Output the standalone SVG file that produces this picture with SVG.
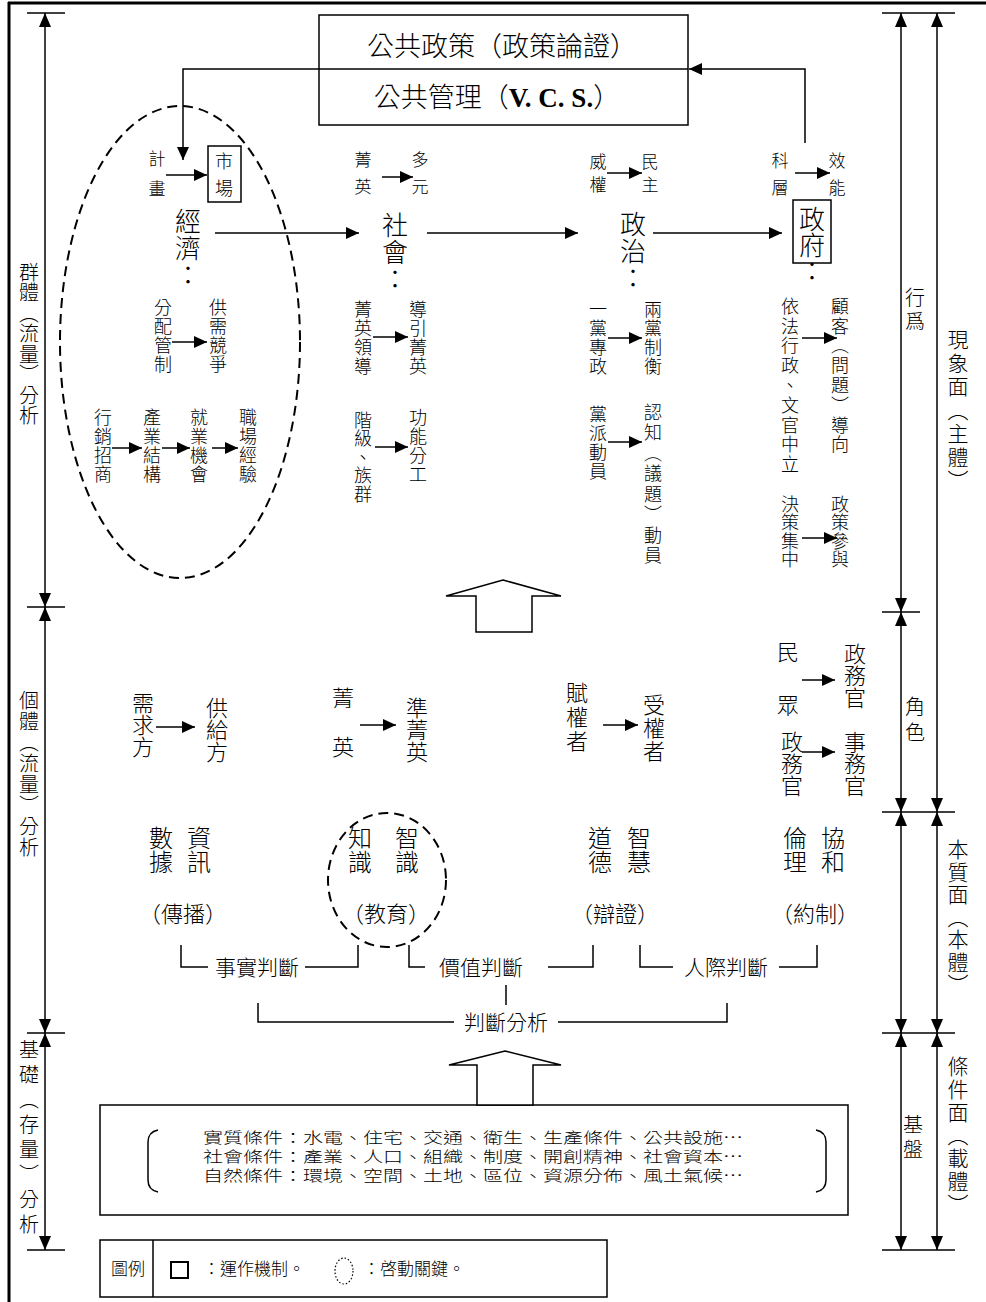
<svg xmlns="http://www.w3.org/2000/svg" width="986" height="1302" viewBox="0 0 986 1302">
<defs>
<marker id="ah" markerUnits="userSpaceOnUse" markerWidth="13" markerHeight="12" refX="13" refY="6" orient="auto"><path d="M0,0 L13,6 L0,12 z" fill="#000"/></marker>
<marker id="dm" markerUnits="userSpaceOnUse" markerWidth="14" markerHeight="12" refX="14" refY="6" orient="auto-start-reverse"><path d="M0,0 L14,6 L0,12 z" fill="#000"/></marker>
<style>
text{font-family:"Noto Sans CJK TC","Noto Sans CJK SC",sans-serif;fill:#000;font-weight:300}
.v{writing-mode:vertical-rl}
.f15{font-size:15px}
.f17{font-size:17px}
.f18{font-size:18px}
.f20{font-size:20px}
.f21{font-size:21px}
.f22{font-size:22px}
.f24{font-size:24px}
.f26{font-size:26px}
.f27{font-size:27px}
.mid{text-anchor:middle}
.ln{stroke:#000;stroke-width:1.5;fill:none}
.ar{stroke:#000;stroke-width:1.5;fill:none;marker-end:url(#ah)}
.dim{stroke:#000;stroke-width:1.5;fill:none;marker-start:url(#dm);marker-end:url(#dm)}
.box{fill:none;stroke:#000;stroke-width:1.5}
.hollow{fill:#fff;stroke:#000;stroke-width:1.5}
.dash{fill:none;stroke:#000;stroke-width:2;stroke-dasharray:10 6}
</style>
</defs>
<rect width="986" height="1302" fill="#fff"/>
<g id="frame">
<line x1="8" y1="3" x2="986" y2="3" stroke="#000" stroke-width="3"/>
<line x1="9" y1="2" x2="9" y2="1302" stroke="#000" stroke-width="3"/>
</g>
<g id="left-axis">
<g class="ln"><line x1="27" y1="13" x2="65" y2="13"/><line x1="27" y1="607" x2="65" y2="607"/><line x1="27" y1="1033" x2="65" y2="1033"/><line x1="27" y1="1250" x2="65" y2="1250"/></g>
<path class="dim" d="M45,13 V607"/><path class="dim" d="M45,607 V1033"/><path class="dim" d="M45,1033 V1250"/>
<text class="v f20" x="29" y="262" style="letter-spacing:0.5px">群體（流量）分析</text>
<text class="v f20" x="29" y="690" style="letter-spacing:1px">個體（流量）分析</text>
<text class="v f20" x="29" y="1039" style="letter-spacing:5px">基礎（存量）分析</text>
</g>
<g id="right-axis">
<g class="ln"><line x1="882" y1="13" x2="955" y2="13"/><line x1="882" y1="612" x2="920" y2="612"/><line x1="882" y1="812" x2="955" y2="812"/><line x1="882" y1="1033" x2="955" y2="1033"/><line x1="882" y1="1250" x2="955" y2="1250"/></g>
<path class="dim" d="M901,13 V612"/><path class="dim" d="M901,612 V812"/><path class="dim" d="M901,812 V1033"/><path class="dim" d="M901,1033 V1250"/>
<path class="dim" d="M937,13 V812"/><path class="dim" d="M937,812 V1033"/><path class="dim" d="M937,1033 V1250"/>
<text class="v f20" x="915" y="287" style="letter-spacing:4px">行爲</text>
<text class="v f21" x="958" y="329" style="letter-spacing:2.5px">現象面（主體）</text>
<text class="v f20" x="915" y="696" style="letter-spacing:6px">角色</text>
<text class="v f21" x="958" y="839" style="letter-spacing:1.5px">本質面（本體）</text>
<text class="v f20" x="913" y="1114" style="letter-spacing:5px">基盤</text>
<text class="v f21" x="958" y="1056" style="letter-spacing:2px">條件面（載體）</text>
</g>
<g id="policy-box">
<rect class="box" x="319" y="15" width="369" height="110"/>
<line class="ln" x1="319" y1="69" x2="688" y2="69"/>
<text class="f27 mid" x="502" y="56">公共政策（政策論證）</text>
<text class="f27 mid" x="497" y="107">公共管理（<tspan style="font-family:'Liberation Serif',serif;font-weight:bold">V. C. S.</tspan>）</text>
</g>
<g id="economy">
<ellipse class="dash" cx="180" cy="342" rx="120" ry="236"/>
<text class="v f17" x="157" y="150" style="letter-spacing:13px">計畫</text>
<rect class="box" x="208" y="146" width="33" height="56"/>
<text class="v f18" x="224" y="152" style="letter-spacing:9px">市場</text>
<text class="v f26" x="188" y="208" style="letter-spacing:1px">經濟：</text>
<text class="v f18" x="163" y="298" style="letter-spacing:1px">分配管制</text>
<text class="v f18" x="218" y="298" style="letter-spacing:1px">供需競爭</text>
<text class="v f18" x="103" y="408" style="letter-spacing:1px">行銷招商</text>
<text class="v f18" x="152" y="408" style="letter-spacing:1px">產業結構</text>
<text class="v f18" x="199" y="408" style="letter-spacing:1px">就業機會</text>
<text class="v f18" x="248" y="408" style="letter-spacing:1px">職場經驗</text>
</g>
<g id="society">
<text class="v f17" x="363" y="151" style="letter-spacing:10px">菁英</text>
<text class="v f17" x="420" y="151" style="letter-spacing:10px">多元</text>
<text class="v f26" x="395" y="212" style="letter-spacing:1px">社會：</text>
<text class="v f18" x="363" y="300" style="letter-spacing:1px">菁英領導</text>
<text class="v f18" x="418" y="300" style="letter-spacing:1px">導引菁英</text>
<text class="v f18" x="363" y="411" style="letter-spacing:0.5px">階級、族群</text>
<text class="v f18" x="418" y="408" style="letter-spacing:1px">功能分工</text>
</g>
<g id="politics">
<text class="v f17" x="598" y="153" style="letter-spacing:6px">威權</text>
<text class="v f17" x="650" y="153" style="letter-spacing:6px">民主</text>
<text class="v f26" x="633" y="211" style="letter-spacing:1px">政治：</text>
<text class="v f18" x="598" y="300" style="letter-spacing:1px">一黨專政</text>
<text class="v f18" x="653" y="300" style="letter-spacing:1px">兩黨制衡</text>
<text class="v f18" x="598" y="405" style="letter-spacing:1px">黨派動員</text>
<text class="v f18" x="653" y="403" style="letter-spacing:2.5px">認知（議題）動員</text>
</g>
<g id="government">
<text class="v f17" x="780" y="152" style="letter-spacing:10px">科層</text>
<text class="v f17" x="837" y="152" style="letter-spacing:10px">效能</text>
<rect class="box" x="793" y="200" width="38" height="63"/>
<text class="v f26" x="812" y="206" style="letter-spacing:0px">政府：</text>
<text class="v f18" x="790" y="297" style="letter-spacing:1.8px">依法行政、文官中立</text>
<text class="v f18" x="840" y="297" style="letter-spacing:1.8px">顧客（問題）導向</text>
<text class="v f18" x="790" y="495" style="letter-spacing:0.5px">決策集中</text>
<text class="v f18" x="840" y="495" style="letter-spacing:0.5px">政策參與</text>
</g>
<g id="roles">
<text class="v f22" x="143" y="692">需求方</text>
<text class="v f22" x="217" y="697">供給方</text>
<text class="v f22" x="343" y="687" style="letter-spacing:27px">菁英</text>
<text class="v f22" x="417" y="697">準菁英</text>
<text class="v f22" x="577" y="682" style="letter-spacing:2px">賦權者</text>
<text class="v f22" x="654" y="694" style="letter-spacing:1px">受權者</text>
<text class="v f22" x="788" y="641" style="letter-spacing:31px">民眾</text>
<text class="v f22" x="855" y="643">政務官</text>
<text class="v f22" x="792" y="731">政務官</text>
<text class="v f22" x="855" y="731">事務官</text>
</g>
<g id="essence">
<text class="v f24" x="199" y="826">資訊</text>
<text class="v f24" x="161" y="826">數據</text>
<text class="f22 mid" x="183" y="922">（傳播）</text>
<ellipse class="dash" cx="387" cy="880" rx="59" ry="67"/>
<text class="v f24" x="407" y="826">智識</text>
<text class="v f24" x="360" y="826">知識</text>
<text class="f22 mid" x="386" y="922">（教育）</text>
<text class="v f24" x="639" y="826">智慧</text>
<text class="v f24" x="600" y="826">道德</text>
<text class="f22 mid" x="615" y="922">（辯證）</text>
<text class="v f24" x="833" y="826">協和</text>
<text class="v f24" x="795" y="826">倫理</text>
<text class="f22 mid" x="815" y="922">（約制）</text>
</g>
<g id="judgements">
<path class="ln" d="M181,945 V967 H208 M305,967 H358 V945"/>
<text class="f21 mid" x="257" y="975">事實判斷</text>
<path class="ln" d="M409,945 V967 H425 M548,967 H593 V945"/>
<text class="f21 mid" x="481" y="975">價值判斷</text>
<path class="ln" d="M640,945 V967 H673 M779,967 H817 V945"/>
<text class="f21 mid" x="726" y="975">人際判斷</text>
<path class="ln" d="M506,985 V1005"/>
<path class="ln" d="M258,1003 V1022 H454 M558,1022 H727 V1003"/>
<text class="f21 mid" x="506" y="1030">判斷分析</text>
</g>
<g id="conditions">
<rect class="box" x="100" y="1105" width="748" height="110"/>
<path class="ln" d="M158,1130 Q148,1132 148,1142 V1180 Q148,1190 158,1192"/>
<path class="ln" d="M816,1130 Q826,1132 826,1142 V1180 Q826,1190 816,1192"/>
<text class="f15" x="203" y="1143" textLength="540" lengthAdjust="spacingAndGlyphs">實質條件：水電、住宅、交通、衛生、生產條件、公共設施…</text>
<text class="f15" x="203" y="1162" textLength="540" lengthAdjust="spacingAndGlyphs">社會條件：產業、人口、組織、制度、開創精神、社會資本…</text>
<text class="f15" x="203" y="1181" textLength="540" lengthAdjust="spacingAndGlyphs">自然條件：環境、空間、土地、區位、資源分佈、風土氣候…</text>
</g>
<g id="legend">
<rect class="box" x="100" y="1240" width="507" height="57"/>
<line class="ln" x1="153" y1="1240" x2="153" y2="1297"/>
<text class="f17 mid" x="128" y="1275">圖例</text>
<rect x="171" y="1262" width="17" height="16" fill="none" stroke="#000" stroke-width="2"/>
<text class="f17" x="203" y="1275">：運作機制。</text>
<ellipse cx="344" cy="1271" rx="9" ry="13" fill="none" stroke="#000" stroke-width="1.2" stroke-dasharray="1.5 2"/>
<text class="f17" x="363" y="1275">：啓動關鍵。</text>
</g>
<g id="connectors">
<path class="ar" d="M805,143 V69 H689"/>
<path class="ar" d="M319,69 H183 V160"/>
<path class="ar" d="M166,175 H207"/>
<path class="ar" d="M382,177 H413"/>
<path class="ar" d="M607,173 H642"/>
<path class="ar" d="M795,173 H830"/>
<path class="ar" d="M215,233 H359"/>
<path class="ar" d="M427,233 H578"/>
<path class="ar" d="M653,233 H782"/>
<path class="ar" d="M172,342 H207"/>
<path class="ar" d="M373,337 H408"/>
<path class="ar" d="M608,338 H642"/>
<path class="ar" d="M802,338 H837"/>
<path class="ar" d="M112,448 H142"/>
<path class="ar" d="M162,448 H190"/>
<path class="ar" d="M212,448 H238"/>
<path class="ar" d="M375,447 H408"/>
<path class="ar" d="M608,442 H642"/>
<path class="ar" d="M802,538 H837"/>
<path class="ar" d="M156,727 H195"/>
<path class="ar" d="M360,725 H396"/>
<path class="ar" d="M603,725 H638"/>
<path class="ar" d="M802,680 H835"/>
<path class="ar" d="M802,752 H835"/>
<polygon class="hollow" points="503,580 561,596 532,596 532,632 476,632 476,596 446,596"/>
<polygon class="hollow" points="505,1051 561,1065 533,1065 533,1105 477,1105 477,1065 449,1065"/>
</g>
</svg>
